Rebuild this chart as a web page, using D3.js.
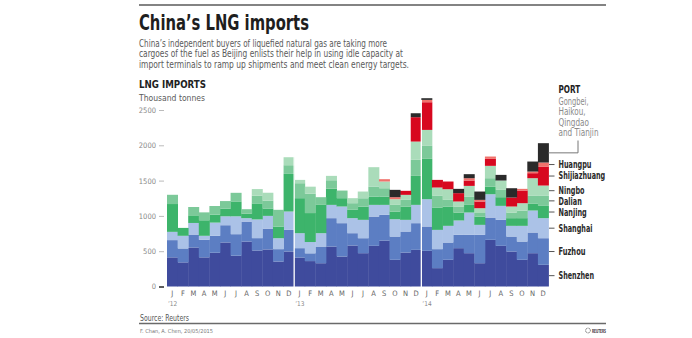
<!DOCTYPE html>
<html><head><meta charset="utf-8">
<script src="https://cdn.jsdelivr.net/npm/d3@7"></script>
<style>
html,body{margin:0;padding:0;background:#fff;}
svg{display:block;}
text{font-family:'Liberation Sans Narrow','DejaVu Sans Condensed','Liberation Sans',sans-serif;}
</style></head><body>
<svg id="chart" width="692" height="338"></svg>
<script>
// ---- data (thousand tonnes) ----
const monthLetters = ["J","F","M","A","M","J","J","A","S","O","N","D"];
const years = ["’12","’13","’14"];
const months = years.flatMap((yr, yi) => monthLetters.map((m, mi) => ({label: m, year: yr, idx: yi * 12 + mi})));

const shenzhen = [413,342,553,413,478,624,436,637,510,525,354,496,
                  411,360,330,566,425,581,472,576,651,378,481,519,
                  505,260,378,543,472,330,661,576,496,378,472,307];
const fuzhou   = [244,197,183,248,240,244,305,283,175,295,175,306,
                  132,110,236,402,472,174,212,415,364,330,298,378,
                  345,269,245,189,260,402,316,368,212,259,293,377];
const shanghai = [117,179,164,57,187,126,253,48,265,180,155,260,
                  212,160,189,188,236,213,260,165,141,245,165,259,
                  387,273,236,203,316,141,330,198,151,222,311,284];
const nanjing  = [394,112,108,220,113,108,211,62,227,105,165,533,
                  496,410,401,229,118,118,186,118,118,109,189,411,
                  571,317,274,113,108,118,109,123,109,109,95,174];
const dalian   = [131,0,118,112,122,108,122,65,109,110,237,123,
                  212,275,109,120,108,94,120,142,118,94,94,227,
                  184,165,94,80,118,50,118,104,80,108,113,142];
const ningbo   = [0,0,0,0,0,0,0,0,94,113,0,113,
                  47,99,0,62,0,71,95,274,95,81,71,259,
                  226,118,151,76,151,68,175,132,85,104,250,146];
const shijiazhuang = [0,0,0,0,0,0,0,0,0,0,0,0,
                  0,0,0,0,0,0,0,0,0,0,57,345,
                  392,108,109,118,76,95,99,0,127,179,71,269];
const huangpu  = [0,0,0,0,0,0,0,0,0,0,0,0,
                  0,0,0,0,0,0,0,0,33,28,0,0,
                  33,0,0,0,33,23,33,0,0,24,23,57];
const others   = [0,0,0,0,0,0,0,0,0,0,0,0,
                  0,0,0,0,0,0,0,0,0,104,0,56,
                  24,0,0,61,57,118,0,80,132,0,142,274];

const seriesNames = ["Shenzhen","Fuzhou","Shanghai","Nanjing","Dalian","Ningbo","Shijiazhuang","Huangpu","Others"];
const seriesValues = [shenzhen,fuzhou,shanghai,nanjing,dalian,ningbo,shijiazhuang,huangpu,others];
const seriesColors = ["#3f4b9d","#5c7ec3","#abc2e7","#3db46b","#7cc999","#aadcba","#d7081f","#f0726c","#2a2a2a"];
const yTicks = [0,500,1000,1500,2000,2500];

const titleText = "China’s LNG imports";
const subtitleLines = [
  "China’s independent buyers of liquefied natural gas are taking more",
  "cargoes of the fuel as Beijing enlists their help in using idle capacity at",
  "import terminals to ramp up shipments and meet clean energy targets."
];
const othersLabel = ["Gongbei,","Haikou,","Qingdao","and Tianjin"];

// approximate printed widths of labels in the reference
const labelWidths = {Shenzhen:35.5, Fuzhou:27, Shanghai:34, Nanjing:28.3, Dalian:23.3, Ningbo:26, Shijiazhuang:46.7, Huangpu:33};
const othersWidths = [30, 27, 30.5, 40];

// ---- build table ----
const table = months.map((m, i) => {
  const row = {idx: i};
  seriesNames.forEach((s, k) => row[s] = seriesValues[k][i]);
  return row;
});
const stack = d3.stack().keys(seriesNames)(table);

const svg = d3.select("#chart");
const x = d3.scaleBand().domain(d3.range(36)).range([167, 548.5]).paddingInner(0).paddingOuter(0);
const y = d3.scaleLinear().domain([0, 2500]).range([286.5, 110]);
const color = d3.scaleOrdinal().domain(seriesNames).range(seriesColors);

// top rule
svg.append("line").attr("x1",139).attr("x2",606).attr("y1",5).attr("y2",5)
  .attr("stroke","#5a5a5a").attr("stroke-width",1.6);

// title
svg.append("text").attr("x",139).attr("y",30).text(titleText)
  .attr("font-size",21).attr("font-weight","bold").attr("fill","#1e1e1e")
  .attr("textLength",170).attr("lengthAdjust","spacingAndGlyphs");

const subW = [248, 264, 270];
svg.selectAll("text.sub").data(subtitleLines).join("text").attr("class","sub")
  .attr("x",139).attr("y",(d,i)=>46.5 + i*10.5).text(d=>d)
  .attr("font-size",10.5).attr("fill","#5a5a5a")
  .attr("textLength",(d,i)=>subW[i]).attr("lengthAdjust","spacingAndGlyphs");

svg.append("text").attr("x",139).attr("y",88).text("LNG IMPORTS")
  .attr("font-size",10.5).attr("font-weight","bold").attr("fill","#222")
  .attr("textLength",67).attr("lengthAdjust","spacingAndGlyphs");
svg.append("text").attr("x",139).attr("y",100.5).text("Thousand tonnes")
  .attr("font-size",9.5).attr("fill","#5a5a5a")
  .attr("textLength",66).attr("lengthAdjust","spacingAndGlyphs");

// y axis (ticks + labels)
const yAxis = d3.axisLeft(y).tickValues(yTicks).tickSize(5).tickPadding(3).tickFormat(d3.format("d"));
const gy = svg.append("g").attr("transform","translate(164,0)").call(yAxis);
gy.select(".domain").remove();
gy.selectAll(".tick line").attr("stroke","#bbb");
gy.selectAll(".tick text").attr("font-size",7.5).attr("fill","#888")
  .style("font-family","'Liberation Sans Narrow','DejaVu Sans Condensed','Liberation Sans',sans-serif");
gy.selectAll(".tick").filter(d=>d===0).select("line").attr("stroke","#333").attr("stroke-width",1.6);

// bars
svg.append("g").selectAll("g").data(stack).join("g")
  .attr("fill", d => color(d.key))
  .selectAll("rect").data(d => d).join("rect")
  .attr("x", d => x(d.data.idx))
  .attr("width", x.bandwidth() + 0.4)
  .attr("y", d => y(d[1]))
  .attr("height", d => Math.max(0, y(d[0]) - y(d[1])));

// year separators
[12, 24].forEach(i => {
  svg.append("line").attr("x1", x(i)).attr("x2", x(i)).attr("y1", 100).attr("y2", 287.5)
    .attr("stroke","#fff").attr("stroke-width",1.3);
});

// x axis month labels
const xAxis = d3.axisBottom(x).tickSize(0).tickPadding(0).tickFormat(i => months[i].label);
const gx = svg.append("g").attr("transform","translate(0,291)").call(xAxis);
gx.select(".domain").remove();
gx.selectAll(".tick text").attr("font-size",7.5).attr("fill","#666")
  .style("font-family","'Liberation Sans Narrow','DejaVu Sans Condensed','Liberation Sans',sans-serif");

svg.selectAll("text.yr").data(years).join("text").attr("class","yr")
  .attr("x",(d,i)=>x(i*12)+1).attr("y",306).text(d=>d)
  .attr("font-size",6.5).attr("fill","#888");

// legend labels at last month (with simple spacing so labels never collide)
const last = 35;
const xr = x(last) + x.bandwidth();
const labelItems = [];
stack.forEach(layer => {
  const d = layer[last];
  const mid = y((d[0] + d[1]) / 2);
  if (layer.key === "Others") {
    svg.append("path").attr("d", `M${xr},${mid}H578V140.5`).attr("fill","none")
      .attr("stroke","#777").attr("stroke-width",1);
  } else {
    labelItems.push({key: layer.key, mid, ly: mid});
  }
});
// labelItems are ordered bottom -> top; push upper labels up when too close
const minGap = 11;
for (let i = labelItems.length - 2; i >= 0; i--) {
  // keep order from top: ensure lower label at least minGap below upper
}
labelItems.sort((a, b) => a.mid - b.mid); // top first
for (let i = 1; i < labelItems.length; i++) {
  if (labelItems[i].ly - labelItems[i - 1].ly < minGap) labelItems[i].ly = labelItems[i - 1].ly + minGap;
}
labelItems.forEach(it => {
  svg.append("line").attr("x1",xr+0.5).attr("x2",xr+6).attr("y1",it.mid).attr("y2",it.mid)
    .attr("stroke","#555").attr("stroke-width",1);
  svg.append("text").attr("x",558.5).attr("y",it.ly).attr("dy","0.35em").text(it.key)
    .attr("font-size",9.8).attr("font-weight","bold").attr("fill","#2a2a2a")
    .attr("textLength",labelWidths[it.key]).attr("lengthAdjust","spacingAndGlyphs");
});
svg.append("text").attr("x",558.5).attr("y",92.5).text("PORT")
  .attr("font-size",10.3).attr("font-weight","bold").attr("fill","#222")
  .attr("textLength",21.7).attr("lengthAdjust","spacingAndGlyphs");
svg.selectAll("text.oth").data(othersLabel).join("text").attr("class","oth")
  .attr("x",558.5).attr("y",(d,i)=>105 + i*10.4).text(d=>d)
  .attr("font-size",9.6).attr("fill","#8a8a8a")
  .attr("textLength",(d,i)=>othersWidths[i]).attr("lengthAdjust","spacingAndGlyphs");

// footer
svg.append("text").attr("x",140).attr("y",320.5).text("Source: Reuters")
  .attr("font-size",8).attr("fill","#555")
  .attr("textLength",49).attr("lengthAdjust","spacingAndGlyphs");
svg.append("line").attr("x1",139).attr("x2",606).attr("y1",323.5).attr("y2",323.5)
  .attr("stroke","#6a6a6a").attr("stroke-width",1.6);
svg.append("text").attr("x",140).attr("y",332.5).text("F. Chan, A. Chen, 20/05/2015")
  .attr("font-size",5.5).attr("fill","#777")
  .attr("textLength",73).attr("lengthAdjust","spacingAndGlyphs");
svg.append("circle").attr("cx",588).attr("cy",330.5).attr("r",2.4).attr("fill","none")
  .attr("stroke","#555").attr("stroke-width",1).attr("stroke-dasharray","0.8,0.6");
svg.append("text").attr("x",592).attr("y",332.5).text("REUTERS")
  .attr("font-size",5.5).attr("font-weight","bold").attr("fill","#444")
  .attr("textLength",14).attr("lengthAdjust","spacingAndGlyphs");
</script>
</body></html>
